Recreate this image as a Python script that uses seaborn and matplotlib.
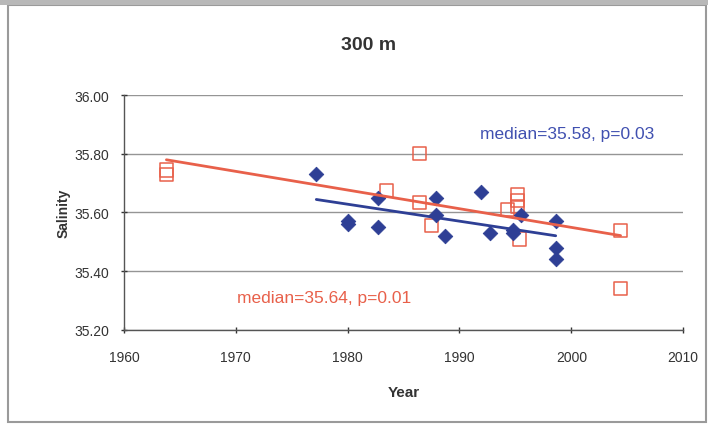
import matplotlib
matplotlib.use("Agg")
import matplotlib.pyplot as plt
import seaborn as sns
import pandas as pd
from matplotlib.patches import Rectangle

# Data
blue_year = [1977.2, 1980.0, 1980.0, 1982.7, 1982.7, 1987.9, 1987.9, 1988.7,
             1991.9, 1992.7, 1994.8, 1994.8, 1995.5, 1998.6, 1998.6, 1998.6]
blue_sal = [35.73, 35.57, 35.56, 35.65, 35.55, 35.65, 35.59, 35.52,
            35.67, 35.53, 35.54, 35.53, 35.59, 35.57, 35.48, 35.44]

orange_year = [1963.8, 1963.8, 1983.5, 1986.4, 1986.4, 1987.5, 1994.3,
               1995.2, 1995.2, 1995.2, 1995.4, 2004.4, 2004.4]
orange_sal = [35.745, 35.73, 35.675, 35.80, 35.635, 35.555, 35.61,
              35.66, 35.64, 35.62, 35.51, 35.54, 35.34]

title = "300 m"
blue_note = "median=35.58, p=0.03"
orange_note = "median=35.64, p=0.01"
x_ticks = [1960, 1970, 1980, 1990, 2000, 2010]
y_ticks = [35.20, 35.40, 35.60, 35.80, 36.00]

BLUE = "#2e3f95"
ORANGE = "#e8604a"

sns.set_theme(style="white")
plt.rcParams['font.family'] = ['Liberation Sans', 'DejaVu Sans']

blue_df = pd.DataFrame({"Year": blue_year, "Salinity": blue_sal})
orange_df = pd.DataFrame({"Year": orange_year, "Salinity": orange_sal})

fig = plt.figure(figsize=(7.08, 4.27), dpi=100)
ax = fig.add_axes([0.175, 0.225, 0.79, 0.55])

ax.yaxis.grid(True, color="#959595", linewidth=1.0)
ax.set_axisbelow(True)

sns.scatterplot(data=orange_df, x="Year", y="Salinity", marker="s", s=90,
                facecolor="none", edgecolor=ORANGE, linewidth=1.1, ax=ax, zorder=3)
sns.scatterplot(data=blue_df, x="Year", y="Salinity", marker="D", s=55,
                color=BLUE, edgecolor=BLUE, ax=ax, zorder=4)
sns.regplot(data=orange_df, x="Year", y="Salinity", scatter=False, ci=None,
            truncate=True, color=ORANGE, line_kws={"linewidth": 2.0, "zorder": 5}, ax=ax)
sns.regplot(data=blue_df, x="Year", y="Salinity", scatter=False, ci=None,
            truncate=True, color=BLUE, line_kws={"linewidth": 2.0, "zorder": 5}, ax=ax)

ax.set_xlim(1960, 2010)
ax.set_ylim(35.20, 36.00)
ax.set_xticks(x_ticks)
ax.set_yticks(y_ticks)
ax.set_yticklabels([f"{v:.2f}" for v in y_ticks])
ax.tick_params(axis="both", labelsize=10, colors="#333333", length=5, direction="inout",
               bottom=True, left=True, width=1)
ax.tick_params(axis="x", pad=12)
ax.tick_params(axis="y", pad=8)
for s in ["top", "right"]:
    ax.spines[s].set_visible(False)
for s in ["left", "bottom"]:
    ax.spines[s].set_color("#555555")
    ax.spines[s].set_linewidth(1.0)

ax.set_xlabel("Year", fontsize=11, fontweight="bold", color="#333333", labelpad=15)
ax.set_ylabel("Salinity", fontsize=10, fontweight="bold", color="#333333", labelpad=3)
fig.text(0.52, 0.893, title, ha="center", va="center", fontsize=14,
         fontweight="bold", color="#333333")

ax.text(0.948, 0.835, blue_note, transform=ax.transAxes, ha="right", va="center",
        fontsize=12.5, color="#4050b0")
ax.text(0.203, 0.14, orange_note, transform=ax.transAxes, ha="left", va="center",
        fontsize=12.5, color=ORANGE)

fig.patches.append(Rectangle((0.012, 0.01), 0.985, 0.975, transform=fig.transFigure,
                             fill=False, edgecolor="#9a9a9a", linewidth=1.5))
fig.patches.append(Rectangle((0.0, 0.985), 1.0, 0.015, transform=fig.transFigure,
                             facecolor="#b8b8b8", edgecolor="none"))

fig.savefig("out.png", dpi=100)
